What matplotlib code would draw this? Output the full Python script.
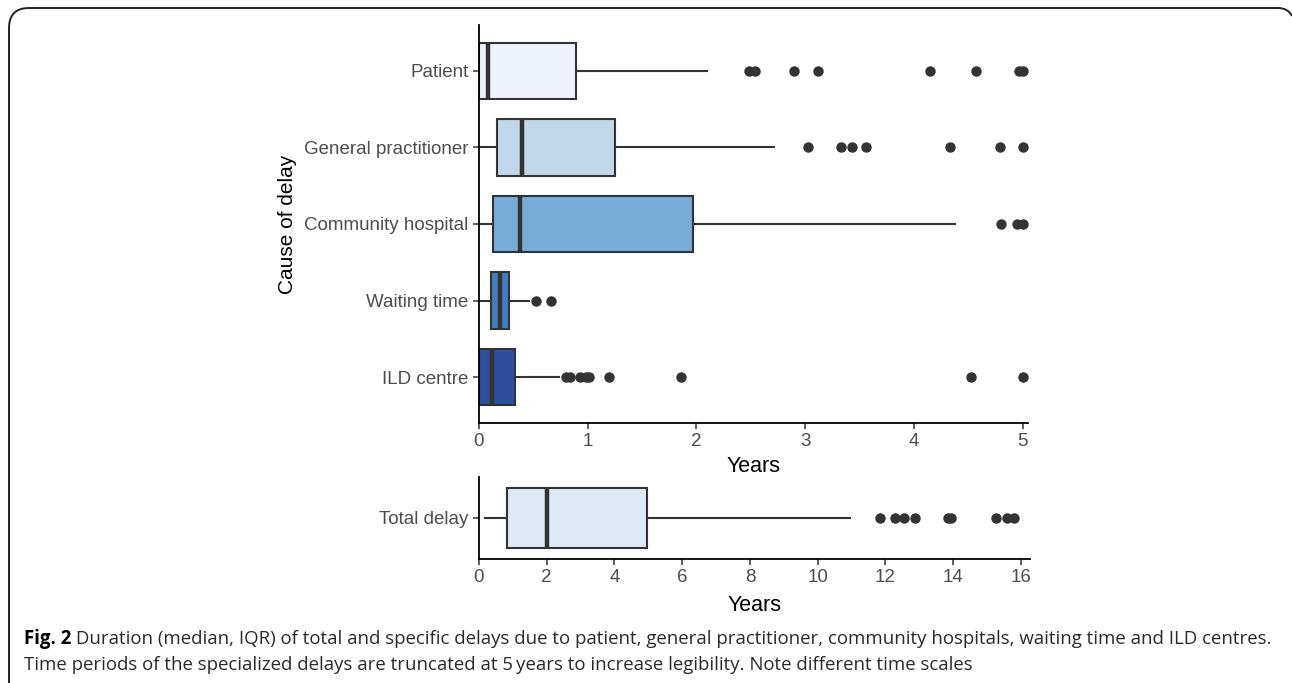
import matplotlib
matplotlib.use("Agg")
import matplotlib.pyplot as plt
from matplotlib.path import Path
from matplotlib.patches import PathPatch

# data (years)
causes = ["Patient", "General practitioner", "Community hospital", "Waiting time", "ILD centre"]
q1 = [0.0, 0.17, 0.13, 0.11, 0.0]
medians = [0.08, 0.40, 0.38, 0.19, 0.12]
q3 = [0.89, 1.25, 1.97, 0.28, 0.33]
whis_lo = [0.0, 0.0, 0.0, 0.0, 0.0]
whis_hi = [2.10, 2.71, 4.38, 0.46, 0.74]
outliers = [
    [2.48, 2.54, 2.90, 3.12, 4.15, 4.57, 4.97, 5.0],
    [3.03, 3.33, 3.43, 3.56, 4.33, 4.79, 5.0],
    [4.80, 4.95, 5.0],
    [0.52, 0.66],
    [0.80, 0.84, 0.93, 0.98, 1.01, 1.20, 1.86, 4.53, 5.0],
]
colors = ["#eef2fd", "#c1d7e7", "#76acd6", "#3f7dc1", "#2e4f9d"]

total_label = "Total delay"
total_q1, total_med, total_q3 = 0.83, 2.02, 4.97
total_lo, total_hi = 0.17, 10.95
total_out = [11.84, 12.28, 12.54, 12.86, 13.85, 13.95, 15.27, 15.6, 15.8]
total_color = "#dfe9f5"

caption_bold = "Fig. 2"
caption_1 = (" Duration (median, IQR) of total and specific delays due to patient, general practitioner, "
             "community hospitals, waiting time and ILD centres.")
caption_2 = "Time periods of the specialized delays are truncated at 5\u2009years to increase legibility. Note different time scales"

plt.rcParams["font.family"] = ["Liberation Sans", "DejaVu Sans"]

W, H = 1292, 683
fig = plt.figure(figsize=(W / 100, H / 100), dpi=100)


def box_axes(left, top, right, bottom):
    return fig.add_axes([left / W, 1 - bottom / H, (right - left) / W, (bottom - top) / H])


edge = "#333333"
flier_style = dict(marker="o", markerfacecolor=edge, markeredgecolor=edge, markersize=6.5, linestyle="none")


def style_axes(ax):
    for s in ["top", "right"]:
        ax.spines[s].set_visible(False)
    for s in ["left", "bottom"]:
        ax.spines[s].set_linewidth(1.3)
        ax.spines[s].set_color("black")
    ax.tick_params(axis="both", length=4, width=1.1, color=edge, labelcolor="#4d4d4d", labelsize=13.5)


def draw(ax, stats, fills, positions, width):
    bp = ax.bxp(stats, positions=positions, widths=width, vert=False, patch_artist=True,
                showcaps=False, flierprops=flier_style,
                boxprops=dict(edgecolor=edge, linewidth=1.5),
                whiskerprops=dict(color=edge, linewidth=1.5),
                medianprops=dict(color=edge, linewidth=3.2, solid_capstyle="butt"))
    for patch, c in zip(bp["boxes"], fills):
        patch.set_facecolor(c)
    for w in bp["whiskers"]:
        w.set_zorder(1)


# top panel: specific delays
ax1 = box_axes(479, 25, 1028, 423)
stats = []
for i, name in enumerate(causes):
    stats.append(dict(label=name, q1=q1[i], med=medians[i], q3=q3[i],
                      whislo=whis_lo[i], whishi=whis_hi[i], fliers=outliers[i]))
pos = list(range(1, len(causes) + 1))
draw(ax1, stats, colors, pos, 0.74)
ax1.set_ylim(len(causes) + 0.6, 0.4)
ax1.set_xlim(0, 5.05)
ax1.set_xticks([0, 1, 2, 3, 4, 5])
style_axes(ax1)
ax1.set_xlabel("Years", fontsize=15.5, labelpad=4)
ax1.set_ylabel("Cause of delay", fontsize=15, labelpad=5)

# bottom panel: total delay
ax2 = box_axes(479, 477, 1030, 559)
draw(ax2, [dict(label=total_label, q1=total_q1, med=total_med, q3=total_q3,
                whislo=total_lo, whishi=total_hi, fliers=total_out)], [total_color], [1], 0.88)
ax2.set_ylim(1.6, 0.4)
ax2.set_xlim(0, 16.27)
ax2.set_xticks(range(0, 17, 2))
style_axes(ax2)
ax2.set_xlabel("Years", fontsize=15.5, labelpad=6)

# frame around the figure
def px(x, y):
    return (x / W, 1 - y / H)

verts = [px(9, 690), px(9, 28), px(9, 8), px(29, 8), px(1278, 8), px(1288, 8), px(1292, 16)]
codes = [Path.MOVETO, Path.LINETO, Path.CURVE3, Path.CURVE3, Path.LINETO, Path.CURVE3, Path.CURVE3]
fig.patches.append(PathPatch(Path(verts, codes), transform=fig.transFigure, fill=False,
                             edgecolor="#222222", linewidth=1.4, clip_on=False))

# caption
cap_font = ["Open Sans", "DejaVu Sans"]
t = fig.text(24 / W, 1 - 644 / H, caption_bold, fontsize=13.4, fontweight="bold", family=cap_font)
r = fig.canvas.get_renderer()
bb = t.get_window_extent(renderer=r)
fig.text(bb.x1 / W, 1 - 644 / H, caption_1, fontsize=13.4, family=cap_font, color="#2a2a2a")
fig.text(24 / W, 1 - 670 / H, caption_2, fontsize=13.4, family=cap_font, color="#2a2a2a")

fig.savefig("out.png", dpi=100)
